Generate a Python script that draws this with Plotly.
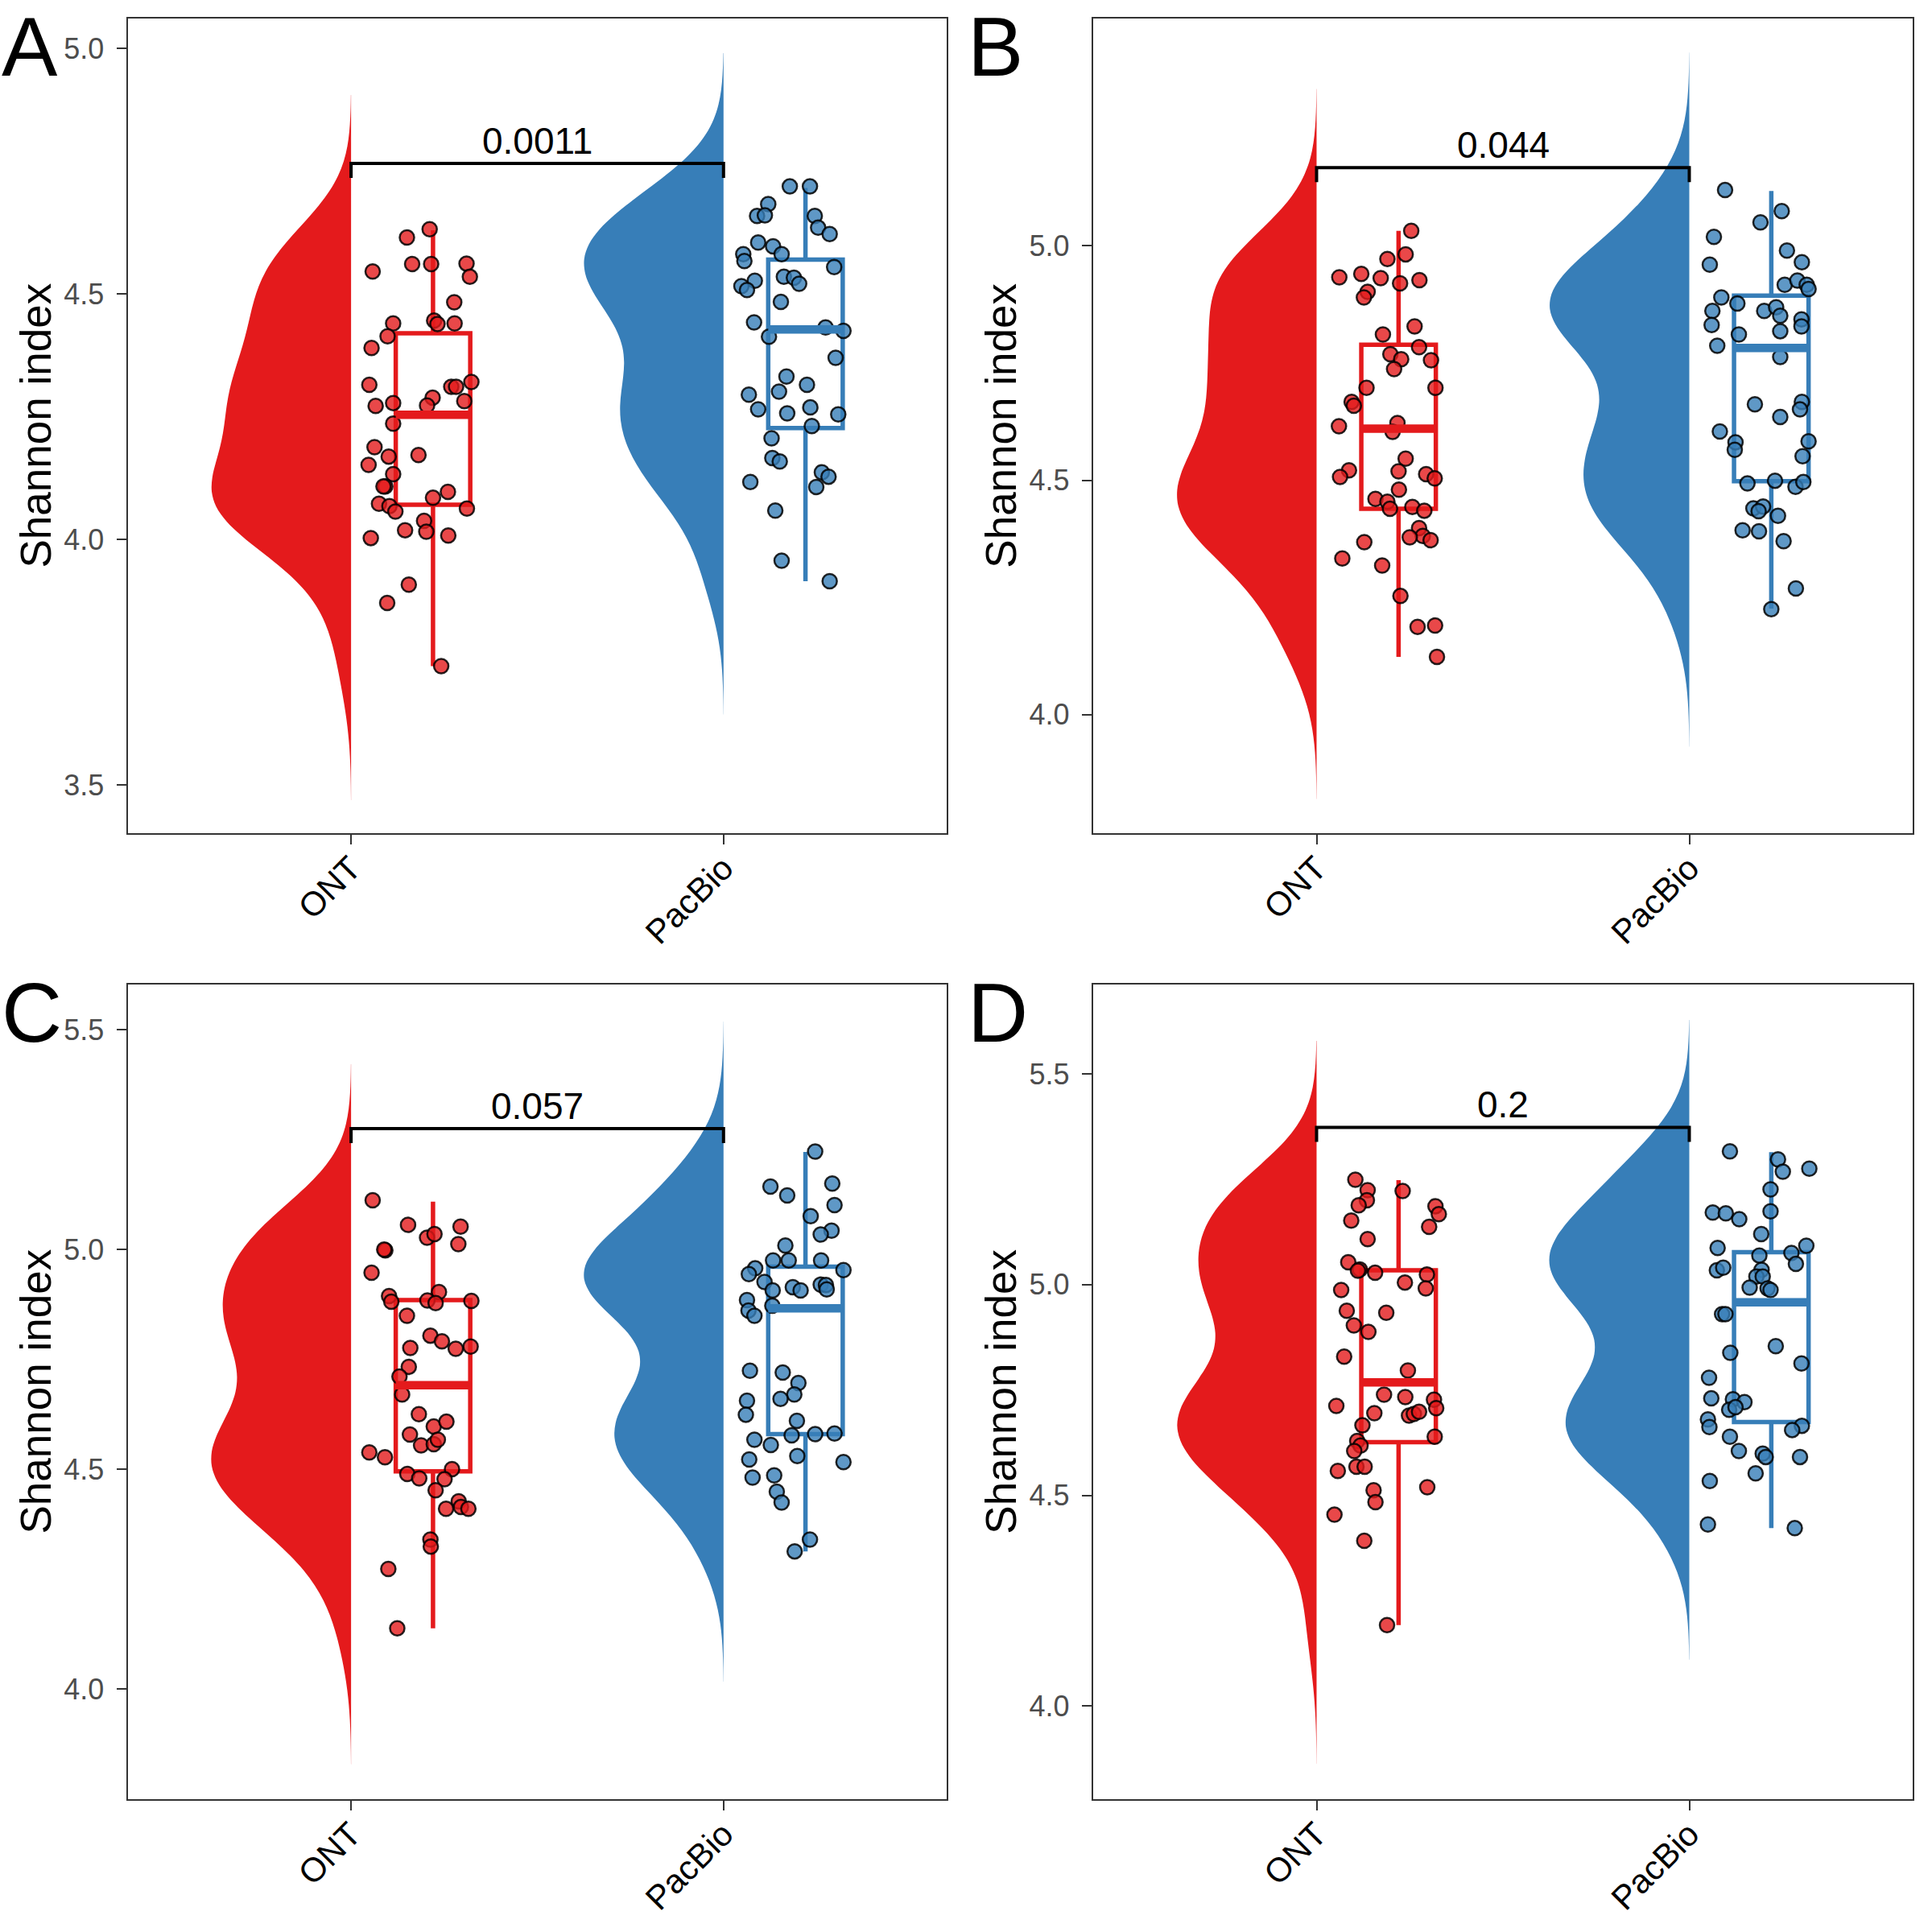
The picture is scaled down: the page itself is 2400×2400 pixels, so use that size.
import numpy as np
import plotly.graph_objects as go

# Shannon index per sample; *_jit = horizontal jitter offset of each dot
categories = ["ONT", "PacBio"]
panel_labels = ["A", "B", "C", "D"]
p_values = ["0.0011", "0.044", "0.057", "0.2"]
bracket_y = [4.766, 5.167, 5.275, 5.373]

ont_a = [4.632, 4.615, 4.546, 4.561, 4.561, 4.562, 4.535, 4.483, 4.440, 4.446, 4.439, 4.440,
         4.414, 4.390, 4.315, 4.321, 4.311, 4.311, 4.289, 4.273, 4.278, 4.272, 4.282, 4.236,
         4.188, 4.172, 4.169, 4.152, 4.133, 4.108, 4.108, 4.097, 4.085, 4.073, 4.068, 4.057,
         4.063, 4.038, 4.019, 4.016, 4.008, 4.003, 3.908, 3.871, 3.742]
ont_a_jit = [0.211, 0.150, 0.058, 0.164, 0.215, 0.310, 0.319, 0.277, 0.113, 0.223, 0.232, 0.278,
             0.098, 0.055, 0.049, 0.323, 0.269, 0.282, 0.219, 0.204, 0.113, 0.066, 0.304, 0.113,
             0.063, 0.181, 0.101, 0.047, 0.113, 0.092, 0.087, 0.260, 0.220, 0.075, 0.103, 0.119,
             0.311, 0.196, 0.145, 0.202, 0.261, 0.053, 0.155, 0.097, 0.242]
pac_a = [4.719, 4.719, 4.683, 4.659, 4.660, 4.659, 4.635, 4.622, 4.605, 4.597, 4.581, 4.581,
         4.567, 4.555, 4.535, 4.533, 4.521, 4.527, 4.516, 4.508, 4.484, 4.442, 4.432, 4.425,
         4.413, 4.370, 4.332, 4.315, 4.295, 4.301, 4.265, 4.269, 4.257, 4.255, 4.231, 4.206,
         4.166, 4.159, 4.137, 4.128, 4.107, 4.117, 4.059, 3.957, 3.915]
pac_a_jit = [0.178, 0.232, 0.120, 0.090, 0.111, 0.245, 0.254, 0.285, 0.093, 0.133, 0.156, 0.053,
             0.056, 0.297, 0.162, 0.189, 0.203, 0.084, 0.048, 0.063, 0.154, 0.082, 0.274, 0.322,
             0.122, 0.301, 0.169, 0.224, 0.068, 0.149, 0.093, 0.233, 0.171, 0.308, 0.237, 0.129,
             0.131, 0.151, 0.264, 0.282, 0.249, 0.072, 0.139, 0.156, 0.285]

ont_b = [5.032, 4.982, 4.972, 4.933, 4.940, 4.931, 4.920, 4.927, 4.902, 4.890, 4.828, 4.811,
         4.784, 4.769, 4.758, 4.756, 4.737, 4.697, 4.697, 4.667, 4.659, 4.615, 4.622, 4.603,
         4.546, 4.521, 4.507, 4.519, 4.513, 4.504, 4.480, 4.460, 4.454, 4.439, 4.443, 4.435,
         4.398, 4.381, 4.378, 4.372, 4.368, 4.333, 4.318, 4.253, 4.187, 4.190, 4.123]
ont_b_jit = [0.254, 0.239, 0.190, 0.061, 0.120, 0.172, 0.224, 0.276, 0.137, 0.127, 0.263, 0.178,
             0.275, 0.198, 0.227, 0.307, 0.208, 0.134, 0.319, 0.094, 0.100, 0.060, 0.217, 0.204,
             0.239, 0.087, 0.063, 0.220, 0.294, 0.317, 0.221, 0.158, 0.190, 0.197, 0.257, 0.289,
             0.275, 0.285, 0.250, 0.306, 0.128, 0.069, 0.176, 0.225, 0.271, 0.318, 0.323]
pac_b = [5.119, 5.074, 5.050, 5.019, 4.990, 4.960, 4.965, 4.917, 4.926, 4.917, 4.908, 4.890,
         4.877, 4.861, 4.861, 4.869, 4.851, 4.843, 4.828, 4.831, 4.811, 4.818, 4.787, 4.763,
         4.662, 4.667, 4.651, 4.635, 4.604, 4.583, 4.581, 4.565, 4.551, 4.493, 4.499, 4.486,
         4.496, 4.440, 4.444, 4.434, 4.424, 4.393, 4.391, 4.370, 4.269, 4.225]
pac_b_jit = [0.096, 0.248, 0.191, 0.066, 0.262, 0.055, 0.302, 0.256, 0.290, 0.315, 0.320, 0.086,
             0.129, 0.062, 0.201, 0.233, 0.244, 0.301, 0.301, 0.060, 0.133, 0.244, 0.075, 0.244,
             0.176, 0.302, 0.297, 0.244, 0.082, 0.320, 0.124, 0.122, 0.304, 0.156, 0.230, 0.285,
             0.306, 0.172, 0.198, 0.186, 0.238, 0.143, 0.187, 0.253, 0.286, 0.220]

ont_c = [5.112, 5.056, 5.052, 5.027, 5.035, 5.012, 4.998, 5.000, 4.947, 4.894, 4.881, 4.903,
         4.884, 4.878, 4.883, 4.849, 4.804, 4.791, 4.774, 4.779, 4.776, 4.733, 4.711, 4.670,
         4.625, 4.597, 4.608, 4.579, 4.554, 4.557, 4.567, 4.538, 4.527, 4.500, 4.489, 4.479,
         4.477, 4.452, 4.427, 4.410, 4.414, 4.410, 4.340, 4.324, 4.273, 4.138]
ont_c_jit = [0.058, 0.153, 0.294, 0.204, 0.224, 0.288, 0.092, 0.089, 0.055, 0.102, 0.108, 0.236,
             0.205, 0.227, 0.323, 0.150, 0.213, 0.244, 0.281, 0.321, 0.159, 0.155, 0.130, 0.137,
             0.182, 0.222, 0.256, 0.158, 0.188, 0.222, 0.233, 0.049, 0.091, 0.271, 0.151, 0.183,
             0.251, 0.227, 0.289, 0.255, 0.295, 0.315, 0.213, 0.214, 0.100, 0.124]
pac_c = [5.223, 5.143, 5.123, 5.150, 5.101, 5.076, 5.043, 5.034, 5.009, 4.975, 4.975, 4.975,
         4.957, 4.944, 4.953, 4.926, 4.907, 4.914, 4.907, 4.920, 4.919, 4.909, 4.885, 4.872,
         4.861, 4.849, 4.724, 4.720, 4.696, 4.670, 4.660, 4.656, 4.624, 4.610, 4.577, 4.580,
         4.581, 4.567, 4.555, 4.530, 4.516, 4.522, 4.486, 4.481, 4.449, 4.424, 4.340, 4.313]
pac_c_jit = [0.246, 0.126, 0.171, 0.292, 0.298, 0.234, 0.290, 0.261, 0.166, 0.133, 0.175, 0.262,
             0.085, 0.068, 0.322, 0.110, 0.132, 0.186, 0.207, 0.261, 0.275, 0.277, 0.063, 0.131,
             0.067, 0.083, 0.071, 0.159, 0.201, 0.190, 0.153, 0.063, 0.060, 0.197, 0.183, 0.246,
             0.298, 0.083, 0.127, 0.198, 0.322, 0.069, 0.136, 0.078, 0.143, 0.156, 0.232, 0.191]

ont_d = [5.249, 5.224, 5.200, 5.188, 5.222, 5.186, 5.167, 5.137, 5.152, 5.108, 5.053, 5.036,
         5.033, 5.028, 5.024, 5.005, 4.991, 4.987, 4.938, 4.933, 4.903, 4.888, 4.829, 4.796,
         4.739, 4.733, 4.727, 4.707, 4.712, 4.695, 4.689, 4.693, 4.698, 4.666, 4.639, 4.629,
         4.618, 4.605, 4.568, 4.568, 4.558, 4.519, 4.512, 4.484, 4.454, 4.392, 4.192]
ont_d_jit = [0.104, 0.137, 0.135, 0.113, 0.231, 0.319, 0.328, 0.302, 0.093, 0.137, 0.085, 0.116,
             0.111, 0.157, 0.296, 0.237, 0.293, 0.066, 0.081, 0.187, 0.100, 0.139, 0.074, 0.245,
             0.181, 0.238, 0.315, 0.321, 0.053, 0.155, 0.248, 0.261, 0.275, 0.123, 0.317, 0.109,
             0.118, 0.101, 0.107, 0.129, 0.057, 0.297, 0.153, 0.158, 0.048, 0.128, 0.189]
pac_d = [5.316, 5.297, 5.268, 5.275, 5.226, 5.174, 5.171, 5.169, 5.155, 5.120, 5.087, 5.092,
         5.075, 5.069, 5.049, 5.034, 5.040, 5.035, 5.019, 5.019, 4.993, 4.991, 4.987, 4.930,
         4.930, 4.854, 4.838, 4.813, 4.779, 4.730, 4.728, 4.721, 4.703, 4.709, 4.680, 4.662,
         4.665, 4.655, 4.639, 4.605, 4.599, 4.591, 4.591, 4.552, 4.534, 4.431, 4.422]
pac_d_jit = [0.109, 0.238, 0.251, 0.322, 0.218, 0.218, 0.063, 0.098, 0.134, 0.193, 0.076, 0.314,
             0.274, 0.188, 0.286, 0.074, 0.091, 0.194, 0.180, 0.197, 0.162, 0.210, 0.218, 0.088,
             0.097, 0.232, 0.110, 0.301, 0.053, 0.059, 0.117, 0.148, 0.107, 0.124, 0.050, 0.054,
             0.302, 0.276, 0.109, 0.133, 0.197, 0.205, 0.297, 0.178, 0.055, 0.050, 0.283]

# box stats as drawn: q1, median, q3, lower whisker, upper whisker
ont_box = [[4.071, 4.254, 4.420, 3.742, 4.630], [4.439, 4.610, 4.789, 4.123, 5.032],
           [4.495, 4.691, 4.885, 4.138, 5.109], [4.626, 4.768, 5.034, 4.192, 5.248]]
pac_box = [[4.227, 4.428, 4.570, 3.915, 4.716], [4.498, 4.782, 4.894, 4.226, 5.117],
           [4.580, 4.866, 4.961, 4.313, 5.222], [4.674, 4.958, 5.077, 4.422, 5.314]]

RED = "#E41A1C"
BLUE = "#377EB8"
PT_FILL = ["rgba(228,26,28,0.8)", "rgba(55,126,184,0.8)"]
FONT = "Liberation Sans, Arial, Helvetica, sans-serif"
W = H = 2400

# panel frames in px (left, right, top, bottom) and y ranges
frames = [(158.5, 1176.4, 23, 1035), (1357.7, 2376.3, 23, 1035),
          (158.5, 1176.4, 1223, 2235), (1357.7, 2376.3, 1223, 2235)]
y_ranges = [[3.402, 5.061], [3.747, 5.485], [3.749, 5.603], [3.779, 5.712]]

groups = [
    [(ont_a, ont_a_jit), (pac_a, pac_a_jit)],
    [(ont_b, ont_b_jit), (pac_b, pac_b_jit)],
    [(ont_c, ont_c_jit), (pac_c, pac_c_jit)],
    [(ont_d, ont_d_jit), (pac_d, pac_d_jit)],
]


def nrd0(v):
    v = np.asarray(v)
    q75, q25 = np.percentile(v, [75, 25])
    lo = min(v.std(ddof=1), (q75 - q25) / 1.34)
    return 0.9 * lo * len(v) ** -0.2


fig = go.Figure()
annotations = []
BOX_SHIFT = 0.22
BOX_W = 0.2

for i, label in enumerate(panel_labels):
    xa = "x" if i == 0 else f"x{i + 1}"
    ya = "y" if i == 0 else f"y{i + 1}"
    colors = [RED, BLUE]
    boxes = [ont_box[i], pac_box[i]]

    # half violins
    for k, (vals, jit) in enumerate(groups[i]):
        bw = nrd0(vals)
        fig.add_trace(go.Violin(
            y=vals, x0=k + 1, side="negative", width=0.748,
            scalemode="width", scalegroup=label, bandwidth=bw,
            spanmode="manual", span=[min(vals) - 3 * bw, max(vals) + 3 * bw],
            points=False, fillcolor=colors[k], line=dict(color=colors[k], width=0),
            opacity=1, hoverinfo="skip", showlegend=False, xaxis=xa, yaxis=ya))

    # jittered points
    for k, (vals, jit) in enumerate(groups[i]):
        fig.add_trace(go.Scatter(
            x=(k + 1) + np.array(jit), y=vals, mode="markers",
            marker=dict(size=18, color=PT_FILL[k],
                        line=dict(color="rgba(0,0,0,0.85)", width=2.5)),
            hoverinfo="skip", showlegend=False, xaxis=xa, yaxis=ya))

    # boxes (no fill, no whisker caps) + thick median
    for k in range(2):
        q1, med, q3, lo, hi = boxes[k]
        pos = k + 1 + BOX_SHIFT
        fig.add_trace(go.Box(
            x=[pos], q1=[q1], median=[med], q3=[q3], lowerfence=[lo], upperfence=[hi],
            width=BOX_W, whiskerwidth=0, boxpoints=False,
            fillcolor="rgba(0,0,0,0)", line=dict(color=colors[k], width=5.5),
            hoverinfo="skip", showlegend=False, xaxis=xa, yaxis=ya))
        fig.add_trace(go.Scatter(
            x=[pos - BOX_W / 2, pos + BOX_W / 2], y=[med, med], mode="lines",
            line=dict(color=colors[k], width=10.5), hoverinfo="skip",
            showlegend=False, xaxis=xa, yaxis=ya))

    # significance bracket
    yr = y_ranges[i]
    tip = 0.0178 * (yr[1] - yr[0])
    yb = bracket_y[i]
    fig.add_trace(go.Scatter(
        x=[1, 1, 2, 2], y=[yb - tip, yb, yb, yb - tip], mode="lines",
        line=dict(color="black", width=4), hoverinfo="skip",
        showlegend=False, xaxis=xa, yaxis=ya))
    annotations.append(dict(
        x=1.5, y=yb, xref=xa, yref=ya, text=p_values[i], showarrow=False,
        xanchor="center", yanchor="bottom", yshift=0,
        font=dict(family=FONT, size=46, color="black")))

    l, r, t, b = frames[i]
    axis_common = dict(showline=True, mirror=True, linecolor="#333333", linewidth=2,
                       ticks="outside", ticklen=12, tickwidth=2, tickcolor="#333333",
                       showgrid=False, zeroline=False)
    fig.layout[f"xaxis{i + 1 if i else ''}"] = dict(
        domain=[l / W, r / W], anchor=ya, range=[0.4, 2.6],
        tickvals=[1, 2], ticktext=categories, tickangle=-45, ticklabelstandoff=-12,
        tickfont=dict(family=FONT, size=42, color="black"), **axis_common)
    fig.layout[f"yaxis{i + 1 if i else ''}"] = dict(
        domain=[1 - b / H, 1 - t / H], anchor=xa, range=yr,
        tick0=0, dtick=0.5, tickformat=".1f", ticklabelstandoff=8,
        tickfont=dict(family=FONT, size=36, color="#4D4D4D"), **axis_common)

    # y title and panel tag
    annotations.append(dict(
        x=(l - 115) / W, y=1 - (t + b) / 2 / H, xref="paper", yref="paper",
        text="Shannon index", textangle=-90, showarrow=False,
        xanchor="center", yanchor="middle",
        font=dict(family=FONT, size=53, color="black")))
    annotations.append(dict(
        x=(0 if l < 1000 else 1200) / W, y=1 - ((0 if t < 1000 else 1200) + 58) / H,
        xref="paper", yref="paper", text=label, showarrow=False,
        xanchor="left", yanchor="middle",
        font=dict(family=FONT, size=104, color="black")))

fig.update_layout(
    width=W, height=H, autosize=False,
    margin=dict(l=0, r=0, t=0, b=0),
    paper_bgcolor="white", plot_bgcolor="white",
    violinmode="overlay", boxmode="overlay",
    font=dict(family=FONT),
    annotations=annotations,
)

# the page's default body margin would shift the whole figure by 8 px
fig.write_html("out.html", config={"displayModeBar": False},
               post_script="document.body.style.margin='0';")
